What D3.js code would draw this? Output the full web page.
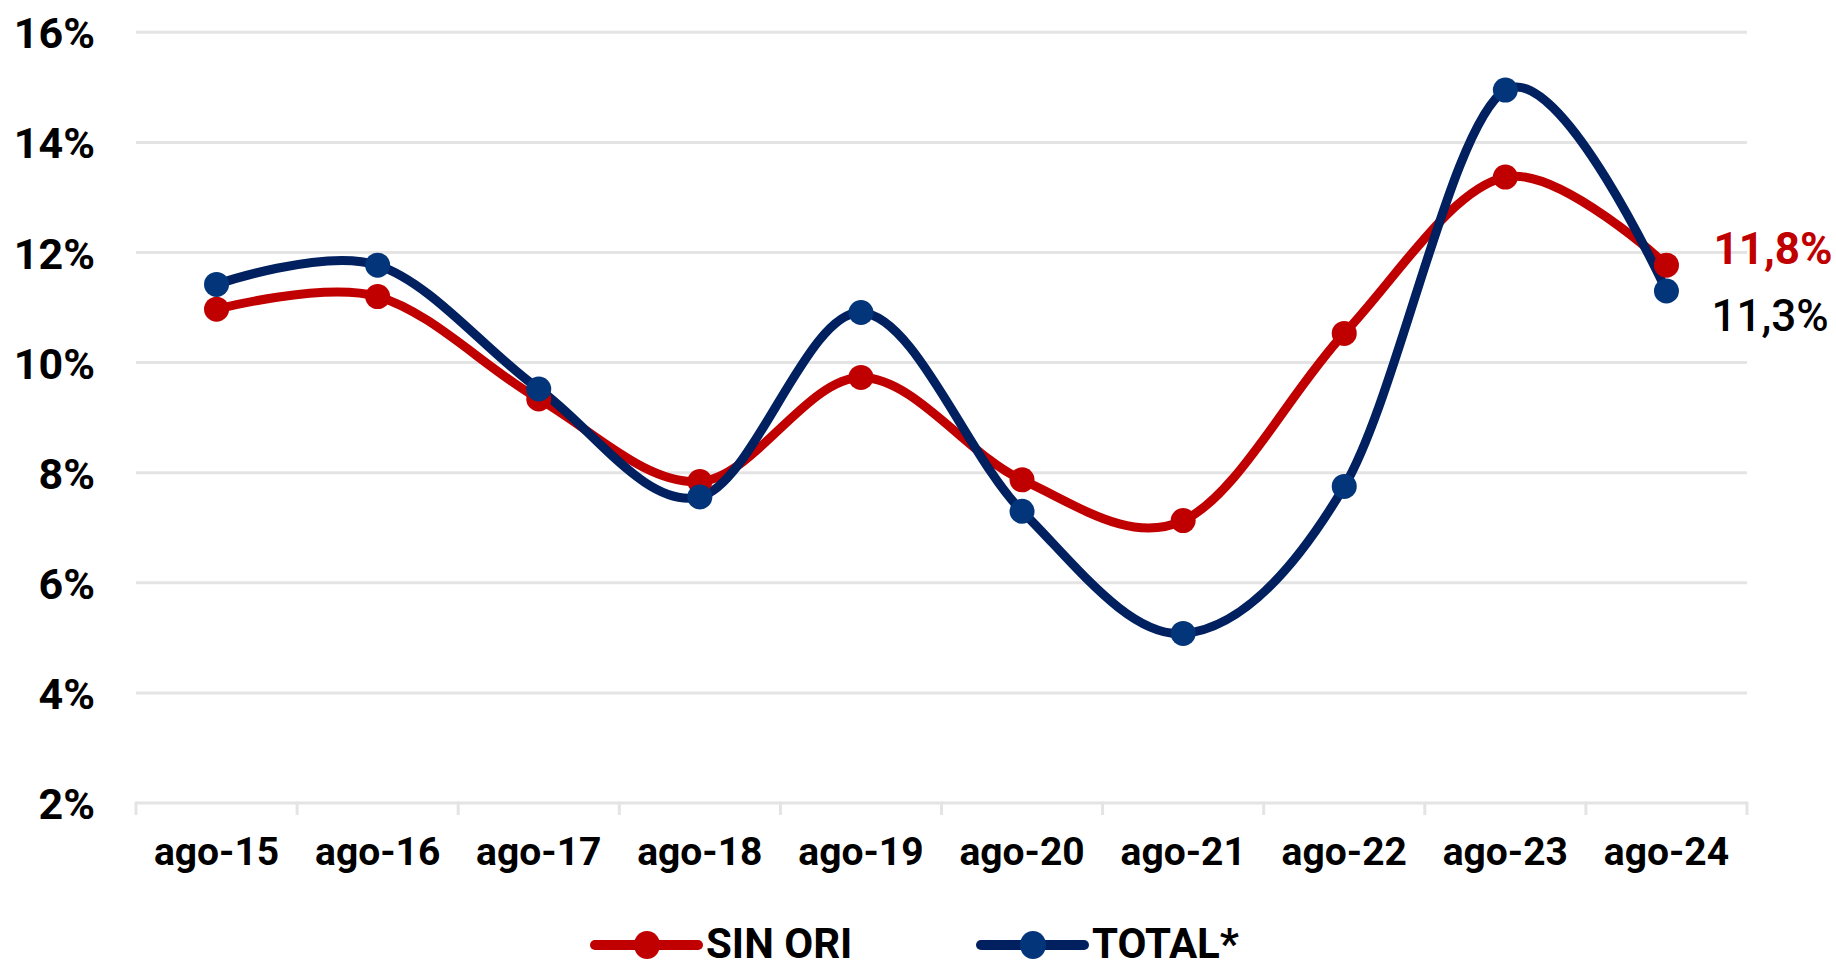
<!DOCTYPE html>
<html>
<head>
<meta charset="utf-8">
<script src="https://cdn.jsdelivr.net/npm/d3@7/dist/d3.min.js"></script>
<style>
  html, body { margin: 0; padding: 0; background: #ffffff; }
  svg { display: block; font-family: Roboto, "Noto Sans", sans-serif; }
</style>
</head>
<body>
<svg id="chart" width="1836" height="968"></svg>
<script>
// ---- Data ----
const categories = ["ago-15","ago-16","ago-17","ago-18","ago-19","ago-20","ago-21","ago-22","ago-23","ago-24"];
const sinOri = [10.97, 11.20, 9.34, 7.84, 9.73, 7.87, 7.13, 10.53, 13.37, 11.77];
const total  = [11.42, 11.77, 9.52, 7.56, 10.91, 7.30, 5.08, 7.75, 14.95, 11.30];
const yTicks = [2, 4, 6, 8, 10, 12, 14, 16];
const seriesNames = ["SIN ORI", "TOTAL*"];
const lastLabels = ["11,8%", "11,3%"];

// ---- Layout ----
const svg = d3.select("#chart");
const plotLeft = 136, plotRight = 1747, plotTop = 32.3, plotBottom = 803;
const x = d3.scaleBand().domain(categories).range([plotLeft, plotRight]).padding(0);
const y = d3.scaleLinear().domain([2, 16]).range([plotBottom, plotTop]);
const cx = d => x(d) + x.bandwidth() / 2;

const redC = "#C00000", blueLine = "#002060", blueMark = "#03357A", grid = "#E4E4E4";

// gridlines
svg.append("g").selectAll("line").data(yTicks.filter(t => t > 2)).join("line")
  .attr("x1", plotLeft).attr("x2", plotRight)
  .attr("y1", d => y(d)).attr("y2", d => y(d))
  .attr("stroke", grid).attr("stroke-width", 3);

// y axis labels
const yAxis = d3.axisLeft(y).tickValues(yTicks).tickFormat(d => d + "%").tickSize(0).tickPadding(0);
const gy = svg.append("g").attr("transform", `translate(95,0)`).call(yAxis);
gy.select(".domain").remove();
gy.selectAll("text")
  .attr("font-family", "Roboto, sans-serif")
  .attr("font-size", 43).attr("font-weight", 700).attr("fill", "#000")
  .attr("dy", null).attr("y", 15.5).attr("x", 0);

// x axis
const xAxis = d3.axisBottom(x).tickSize(0).tickPadding(0);
const gx = svg.append("g").attr("transform", `translate(0,${plotBottom})`).call(xAxis);
gx.select(".domain").attr("stroke", grid).attr("stroke-width", 3).attr("d", `M${plotLeft},0H${plotRight}`);
gx.selectAll("text")
  .attr("font-family", "Roboto, sans-serif")
  .attr("font-size", 39).attr("font-weight", 700).attr("fill", "#000")
  .attr("dy", null).attr("y", 62);
// boundary ticks
const bounds = categories.map(c => x(c)).concat([x(categories[categories.length - 1]) + x.bandwidth()]);
svg.append("g").selectAll("line").data(bounds).join("line")
  .attr("x1", d => d).attr("x2", d => d)
  .attr("y1", plotBottom - 1.5).attr("y2", plotBottom + 12)
  .attr("stroke", grid).attr("stroke-width", 3);

// lines
const line = d3.line().x((d, i) => cx(categories[i])).y(d => y(d)).curve(d3.curveCardinal.tension(0));
const series = [
  { name: seriesNames[0], values: sinOri, lc: redC, mc: redC },
  { name: seriesNames[1], values: total, lc: blueLine, mc: blueMark }
];
series.forEach(s => {
  svg.append("path").datum(s.values).attr("d", line)
    .attr("fill", "none").attr("stroke", s.lc).attr("stroke-width", 9)
    .attr("stroke-linejoin", "round").attr("stroke-linecap", "round");
});
series.forEach(s => {
  svg.append("g").selectAll("circle").data(s.values).join("circle")
    .attr("cx", (d, i) => cx(categories[i])).attr("cy", d => y(d)).attr("r", 12.5)
    .attr("fill", s.mc);
});

// end labels
const lastCat = categories[categories.length - 1];
svg.append("text").attr("x", cx(lastCat) + 47).attr("y", y(sinOri[sinOri.length - 1]) - 1)
  .attr("font-size", 44).attr("font-weight", 700).attr("fill", redC).text(lastLabels[0]);
svg.append("text").attr("x", cx(lastCat) + 45).attr("y", y(total[total.length - 1]) + 40)
  .attr("font-size", 44).attr("font-weight", 500).attr("fill", "#000").text(lastLabels[1]);

// legend
const legendY = 945;
const legendItems = [
  { x0: 595, s: series[0] },
  { x0: 981, s: series[1] }
];
legendItems.forEach(it => {
  const g = svg.append("g");
  g.append("line").attr("x1", it.x0).attr("x2", it.x0 + 103).attr("y1", legendY).attr("y2", legendY)
    .attr("stroke", it.s.lc).attr("stroke-width", 10).attr("stroke-linecap", "round");
  g.append("ellipse").attr("cx", it.x0 + 52).attr("cy", legendY).attr("rx", 13).attr("ry", 14).attr("fill", it.s.mc);
  g.append("text").attr("x", it.x0 + 111).attr("y", legendY + 13)
    .attr("font-size", 42).attr("font-weight", 700).attr("fill", "#000").text(it.s.name);
});
</script>
</body>
</html>
